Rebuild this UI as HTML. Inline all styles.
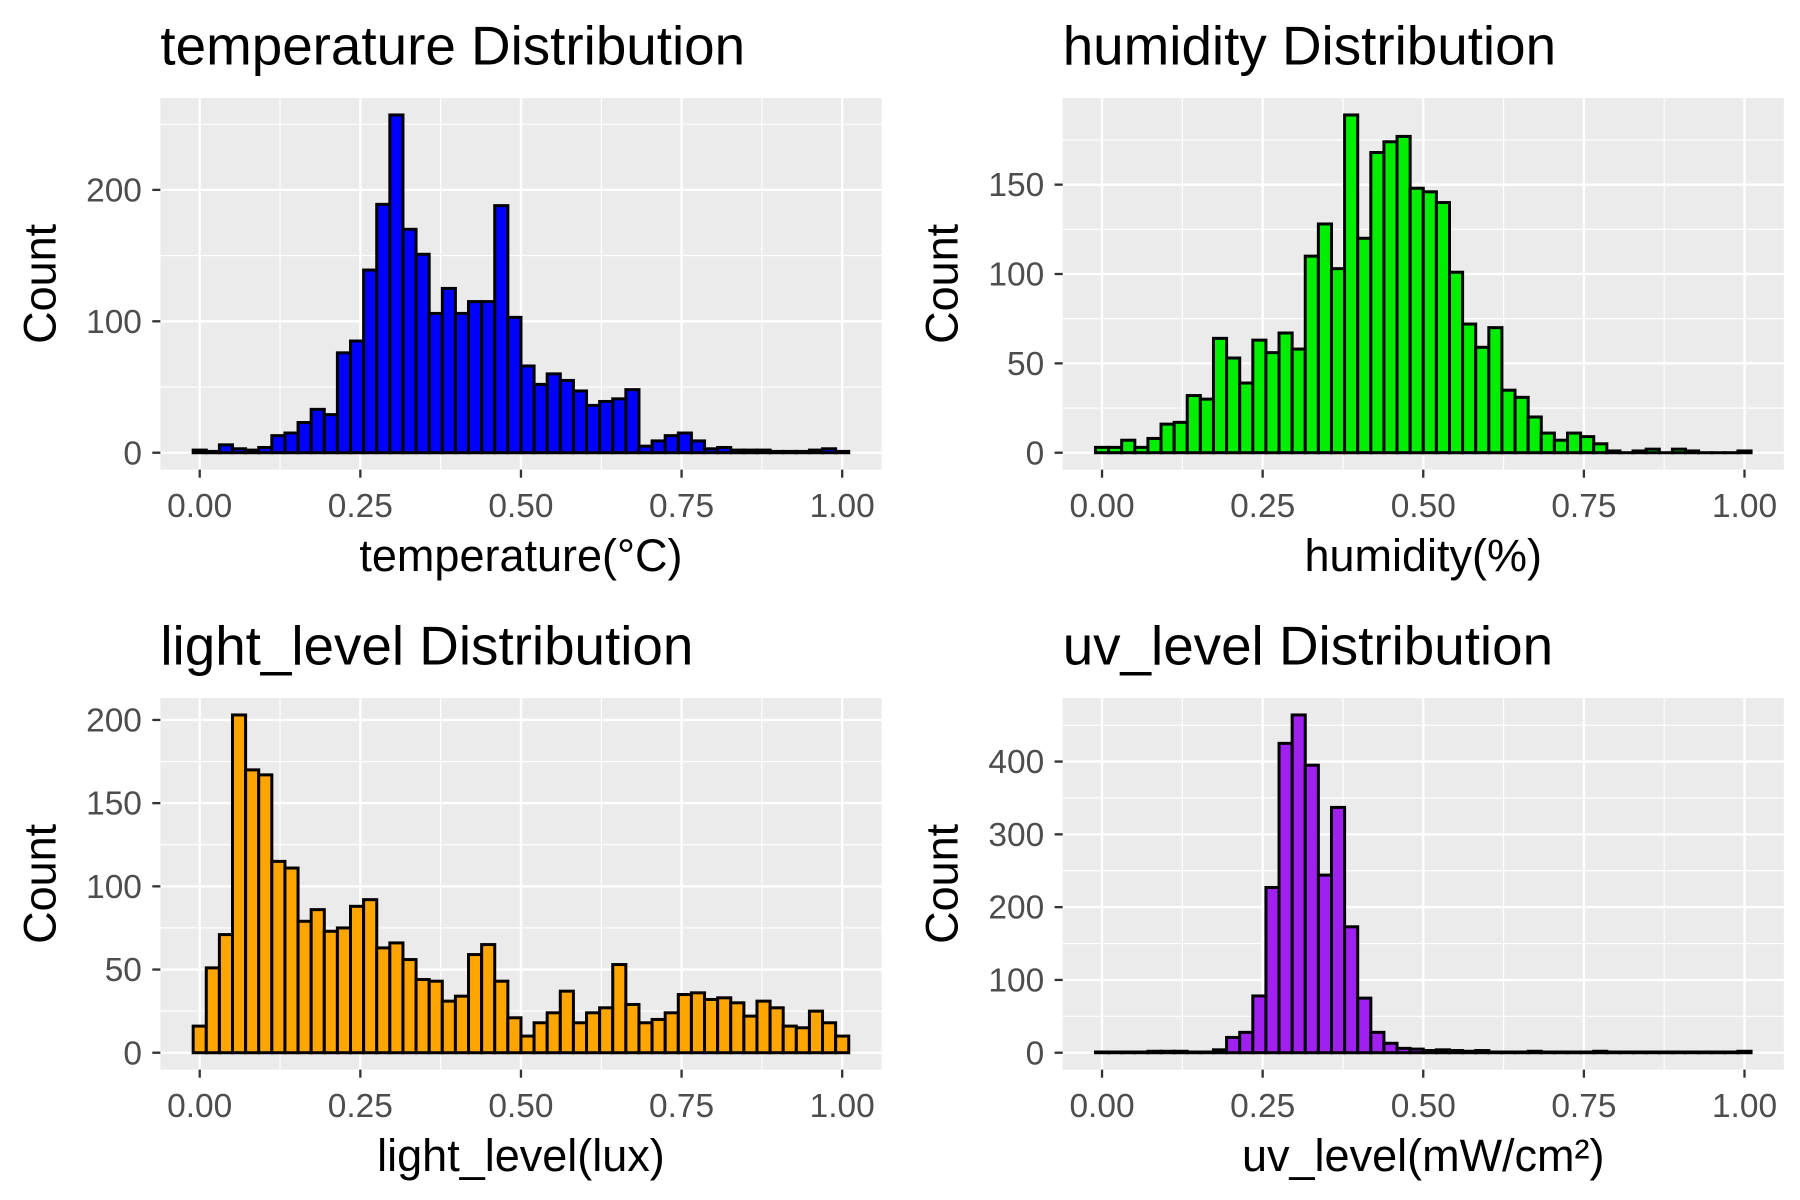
<!DOCTYPE html>
<html><head><meta charset="utf-8"><style>
html,body{margin:0;padding:0;background:#fff;}
svg{display:block;font-family:"Liberation Sans",Arial,sans-serif;}
</style></head><body>
<svg id="chart" width="1800" height="1200" viewBox="0 0 1560 1040" xmlns="http://www.w3.org/2000/svg"></svg>
<script>
const temperatureCounts = [2,1,6,3,2,4,13,15,23,33,29,76,85,139,189,257,170,151,106,125,106,115,115,188,103,66,52,60,55,47,36,39,41,48,5,9,13,15,9,3,4,2,2,2,1,1,1,2,3,1];
const humidityCounts = [3,3,7,3,8,16,17,32,30,64,53,39,63,56,67,58,110,128,103,189,120,168,174,177,148,146,140,101,72,59,70,35,31,20,11,7,11,9,5,1,0,1,2,0,2,1,0,0,0,1];
const lightCounts = [16,51,71,203,170,167,115,111,79,86,73,75,88,92,63,66,56,44,43,31,34,59,65,43,21,10,18,24,37,18,24,27,53,29,18,20,24,35,36,32,33,30,22,31,27,16,15,25,18,10];
const uvCounts = [1,1,1,1,2,2,2,1,1,4,21,28,78,227,425,464,395,244,337,173,75,28,13,6,5,3,4,3,2,3,1,1,1,2,1,1,1,1,2,1,1,1,1,1,1,1,1,1,1,2];
const xTickLabels = ["0.00","0.25","0.50","0.75","1.00"];
const xTickValues = [0,0.25,0.5,0.75,1];
const tempYTicks = [0,100,200];
const humYTicks = [0,50,100,150];
const lightYTicks = [0,50,100,150,200];
const uvYTicks = [0,100,200,300,400];
const panelTitles = ["temperature Distribution","humidity Distribution","light_level Distribution","uv_level Distribution"];
const axisTitles = ["temperature(°C)","humidity(%)","light_level(lux)","uv_level(mW/cm²)"];
const fills = ["#0000FF","#00EE00","#FFA500","#A020F0"];

const NS="http://www.w3.org/2000/svg";
const svg=document.getElementById('chart');
function mk(tag,attrs,parent){const e=document.createElementNS(NS,tag);for(const k in attrs)e.setAttribute(k,attrs[k]);parent.appendChild(e);return e;}

function panel(idx,counts,yTicks,ox,oy){
  const g=mk('g',{},svg);
  
  
  const L=ox+139,R=ox+764,T=oy+85,B=oy+407;
  const nb=counts.length, bw=1/(nb-1);
  const dx0=-bw/2, dx1=1+bw/2, ex=(dx1-dx0)*0.05;
  const xmin=dx0-ex,xmax=dx1+ex;
  const ymax=Math.max(...counts);
  const ylo=-0.05*ymax, yhi=1.05*ymax;
  const X=v=>L+(v-xmin)/(xmax-xmin)*(R-L);
  const Y=v=>B-(v-ylo)/(yhi-ylo)*(B-T);
  const bg=mk('rect',{x:L,y:T,width:R-L,height:B-T,fill:'#EBEBEB'},g);
  
  
  const step=yTicks[1]-yTicks[0];
  for(let v=step/2;v<yhi;v+=step){mk('line',{x1:L,x2:R,y1:Y(v),y2:Y(v),stroke:'#fff','stroke-width':1},g);}
  for(let i=0;i<xTickValues.length-1;i++){const v=(xTickValues[i]+xTickValues[i+1])/2;mk('line',{x1:X(v),x2:X(v),y1:T,y2:B,stroke:'#fff','stroke-width':1},g);}
  yTicks.forEach(v=>mk('line',{x1:L,x2:R,y1:Y(v),y2:Y(v),stroke:'#fff','stroke-width':2},g));
  xTickValues.forEach(v=>mk('line',{x1:X(v),x2:X(v),y1:T,y2:B,stroke:'#fff','stroke-width':2},g));
  counts.forEach((c,i)=>{
    const x0=X(i*bw-bw/2),x1=X(i*bw+bw/2);
    const h=Math.max(Y(0)-Y(c),0.01);
    const r=mk('rect',{x:x0,y:Y(0)-h,width:x1-x0,height:h,fill:fills[idx],stroke:'#000','stroke-width':2.6},g);
    
    
  });
  yTicks.forEach(v=>{
    mk('line',{x1:L-7,x2:L,y1:Y(v),y2:Y(v),stroke:'#333','stroke-width':2},g);
    const t=mk('text',{x:L-16,y:Y(v)+10,'text-anchor':'end','font-size':29,fill:'#4D4D4D'},g);
    t.textContent=v;
    
    
  });
  xTickValues.forEach((v,i)=>{
    mk('line',{x1:X(v),x2:X(v),y1:B,y2:B+7,stroke:'#333','stroke-width':2},g);
    const t=mk('text',{x:X(v),y:B+41,'text-anchor':'middle','font-size':29,fill:'#4D4D4D'},g);
    t.textContent=xTickLabels[i];
    
    
  });
  const ti=mk('text',{x:L,y:oy+56,'font-size':47.5,fill:'#000'},g);
  ti.textContent=panelTitles[idx];
  
  
  const xt=mk('text',{x:(L+R)/2,y:oy+495,'text-anchor':'middle','font-size':39,fill:'#000'},g);
  xt.textContent=axisTitles[idx];
  
  
  const yt=mk('text',{x:0,y:0,'text-anchor':'middle','font-size':39,fill:'#000',transform:'translate('+(ox+48)+','+((T+B)/2)+') rotate(-90)'},g);
  yt.textContent='Count';
  
  
}
panel(0,temperatureCounts,tempYTicks,0,0);
panel(1,humidityCounts,humYTicks,782,0);
panel(2,lightCounts,lightYTicks,0,520);
panel(3,uvCounts,uvYTicks,782,520);
</script>
</body></html>
